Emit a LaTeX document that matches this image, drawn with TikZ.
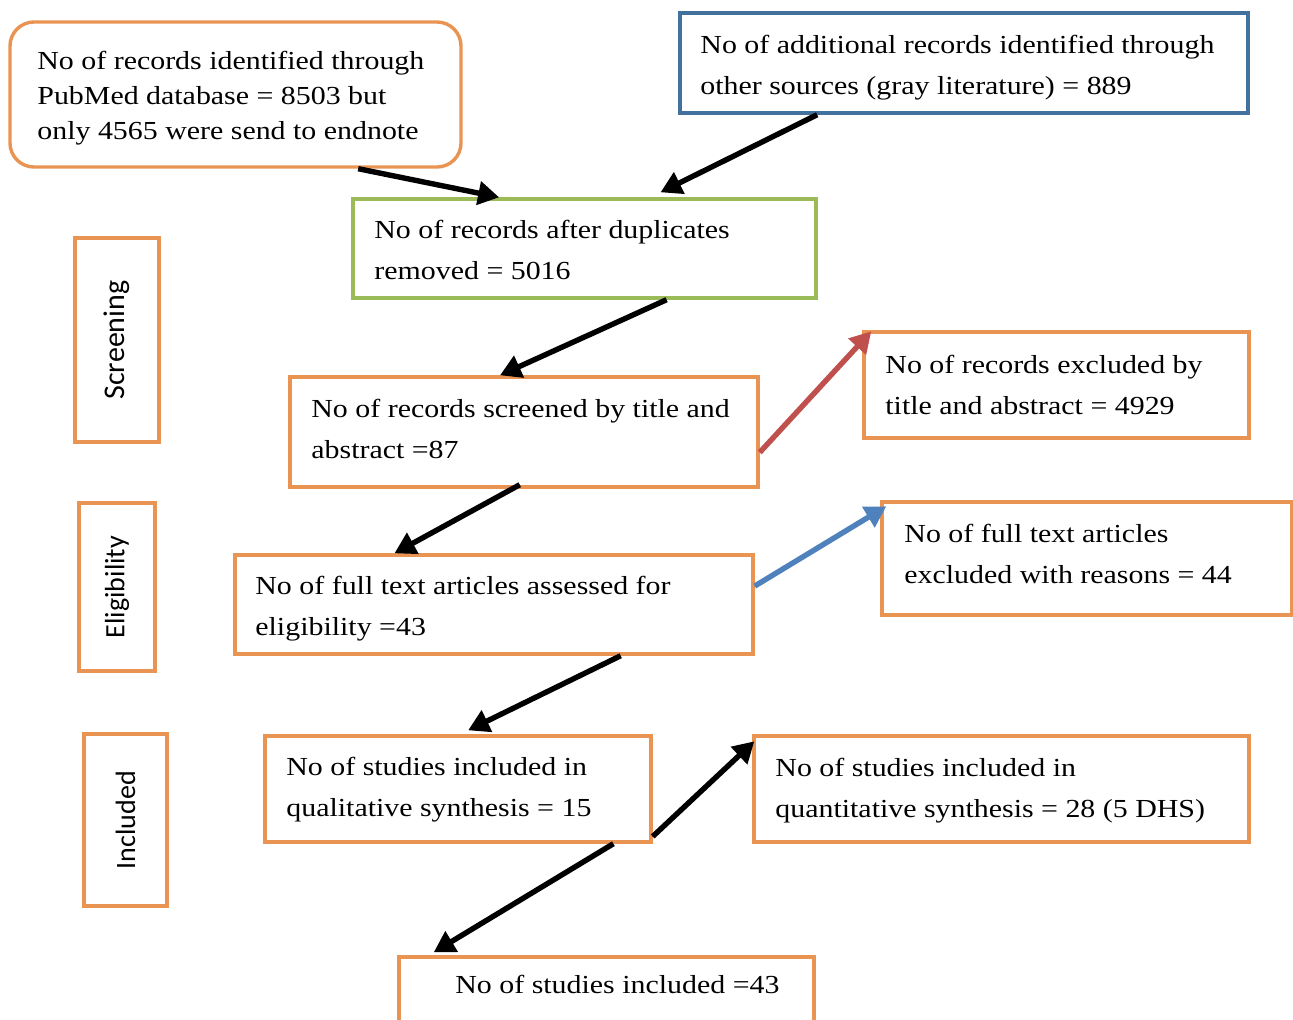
\documentclass[tikz,border=0pt]{standalone}
\usepackage{fontspec}
\setmainfont[FakeStretch=1.15]{Liberation Serif}
\newfontfamily\labfont{Carlito}
\usetikzlibrary{arrows.meta,calc,fit}
\definecolor{borange}{RGB}{233,148,82}
\definecolor{bblue}{RGB}{65,113,156}
\definecolor{bgreen}{RGB}{155,187,89}
\definecolor{ared}{RGB}{192,80,77}
\definecolor{ablue}{RGB}{79,129,189}
\begin{document}
\begin{tikzpicture}[x=0.5pt,y=-0.5pt,
  frame/.style={draw=#1, line width=1.7pt, inner sep=0pt},
  txt/.style={anchor=west, align=left, inner sep=0pt, font=\fontsize{13}{20.5}\selectfont},
  lab/.style={rotate=90, inner sep=0pt, font=\labfont\fontsize{14}{16}\selectfont},
  arr/.style={line width=2.7pt, -{Triangle[length=10.5pt,width=11.5pt]}},
  arrk/.style={arr, draw=black},
  arrr/.style={arr, draw=ared},
  arrbl/.style={arr, draw=ablue}]
\clip (0,0) rectangle (1293,1019);
\fill[white] (0,0) rectangle (1293,1019);
% main boxes
\node[frame=borange, rounded corners=12pt, fit={(10,22)(461,167)}] (A) {};
\node[frame=bblue, fit={(680,13)(1248,113)}] (B) {};
\node[frame=bgreen, fit={(353,199)(816,298)}] (C) {};
\node[frame=borange, fit={(290,377)(758,487)}] (D) {};
\node[frame=borange, fit={(864,332)(1249,438)}] (E) {};
\node[frame=borange, fit={(235,555)(753,654)}] (F) {};
\node[frame=borange, fit={(882,502)(1292,615)}] (G) {};
\node[frame=borange, fit={(265,736)(651,842)}] (H) {};
\node[frame=borange, fit={(754,736)(1249,842)}] (I) {};
\node[frame=borange, fit={(399,957)(814,1060)}] (J) {};
% stage boxes
\node[frame=borange, fit={(75,238)(159,442)}] (S1) {};
\node[frame=borange, fit={(79,503)(155,671)}] (S2) {};
\node[frame=borange, fit={(84,734)(167,906)}] (S3) {};
\node[lab, font=\labfont\fontsize{15}{17}\selectfont] (S1t) at (S1.center) {Screening};
\node[lab] (S2t) at (S2.center) {Eligibility};
\node[lab] (S3t) at (S3.center) {Included};
% texts
\node[txt, font=\fontsize{13}{17.5}\selectfont] (At) at (37,98) {No of records identified through\\PubMed database = 8503 but\\only 4565 were send to endnote};
\node[txt] (Bt) at (700,68) {No of additional records identified through\\other sources (gray literature) = 889};
\node[txt] (Ct) at (374,249.5) {No of records after duplicates\\removed = 5016};
\node[txt] (Dt) at (311,428.5) {No of records screened by title and\\abstract =87};
\node[txt] (Et) at (885,384.5) {No of records excluded by\\title and abstract = 4929};
\node[txt] (Ft) at (255,608.5) {No of full text articles assessed for\\eligibility =43};
\node[txt] (Gt) at (904,553.5) {No of full text articles\\excluded with reasons = 44};
\node[txt] (Ht) at (286,789.5) {No of studies included in\\qualitative synthesis = 15};
\node[txt] (It) at (775,790.5) {No of studies included in\\quantitative synthesis = 28 (5 DHS)};
\node[txt] (Jt) at (455,984) {No of studies included =43};
% arrows
\draw[arrk] ($(A.south west)!0.77!(A.south east)$) -- ($(C.north west)!0.317!(C.north east)$);
\draw[arrk] ($(B.south west)!0.243!(B.south east)$) -- ($(C.north west)!0.663!(C.north east)+(0,-5)$);
\draw[arrk] ($(C.south west)!0.676!(C.south east)$) -- ($(D.north west)!0.449!(D.north east)$);
\draw[arrr] ($(D.north east)!0.68!(D.south east)$) -- ($(E.north west)+(9,1)$);
\draw[arrk] ($(D.south west)!0.491!(D.south east)+(0,-4)$) -- ($(F.north west)!0.309!(F.north east)$);
\draw[arrbl] ($(F.north east)!0.32!(F.south east)$) -- ($(G.north west)+(6,6)$);
\draw[arrk] ($(F.south west)!0.743!(F.south east)$) -- ($(H.north west)!0.526!(H.north east)+(0,-4)$);
\draw[arrk] ($(H.north east)!0.934!(H.south east)$) -- ($(I.north west)+(2,7)$);
\draw[arrk] ($(H.south west)!0.899!(H.south east)$) -- ($(J.north west)!0.087!(J.north east)+(0,-3)$);
\end{tikzpicture}
\end{document}
